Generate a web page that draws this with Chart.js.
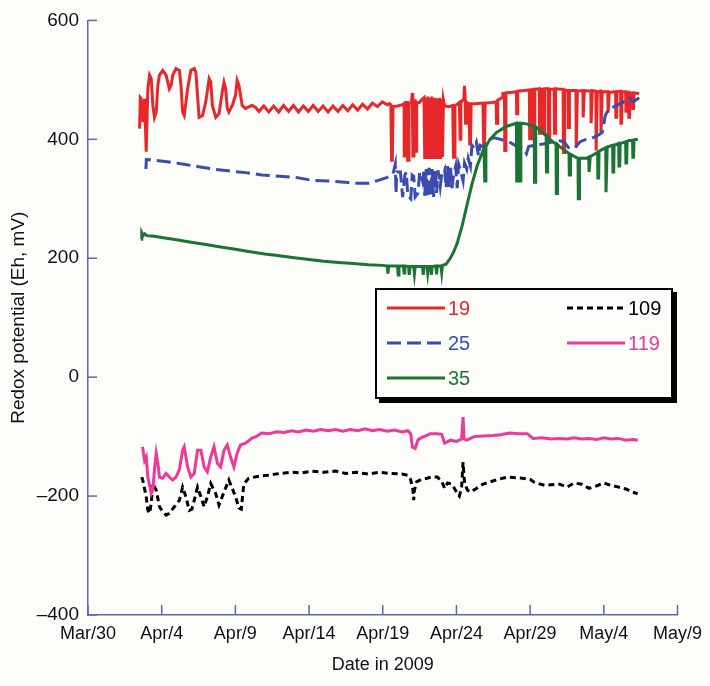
<!DOCTYPE html>
<html><head><meta charset="utf-8">
<script src="https://cdn.jsdelivr.net/npm/chart.js@4"></script>
<style>
html,body{margin:0;padding:0;background:#fdfdf9;}
#wrap{position:relative;width:710px;height:686px;}
#legend{position:absolute;left:375px;top:288px;width:294px;height:107px;border:2px solid #000;box-shadow:4px 4px 0 #000;background:#fdfdf9;font-family:"Liberation Sans",Arial,sans-serif;font-size:20px;}
.item{position:absolute;display:flex;align-items:center;height:24px;}
.item svg{display:block;margin-right:3px;}
</style></head>
<body>
<div id="wrap"><canvas id="c" width="710" height="686"></canvas><div id="legend"></div></div>
<script>
// ---- data (x = days since Mar 30, 2009) ----
const tickLabels = ['Mar/30','Apr/4','Apr/9','Apr/14','Apr/19','Apr/24','Apr/29','May/4','May/9'];
const seriesNames = ['19','25','35','109','119'];

const s19Day = [3.5,3.55,3.61,3.73,3.84,3.95,4.06,4.18,4.29,4.40,4.51,4.63,4.74,4.85,5.07,5.30,5.52,5.64,5.75,5.97,6.20,6.31,6.42,6.53,6.76,6.98,7.21,7.32,7.43,7.54,7.77,7.99,8.22,8.33,8.44,8.67,8.89,9.11,9.23,9.34,9.45,9.56,9.79,10.01,10.12,10.24,10.46,10.69,11.13,11.36,
11.60,11.93,12.27,12.60,12.94,13.27,13.61,13.94,14.28,14.61,14.95,15.28,15.62,15.95,16.29,16.62,16.96,17.29,17.63,17.96,18.30,18.63,18.97,19.30,19.64,19.97,20.31,
20.45,20.55,20.6,20.65,20.7,21.0,21.3,21.45,21.46,21.52,21.55,21.68,21.69,21.75,21.78,21.95,22.0,22.04,22.05,22.1,22.12,22.2,22.21,22.26,22.3,22.5,22.62,
22.8,22.85,22.92,22.98,23.05,23.12,23.18,23.25,23.32,23.38,23.45,23.52,23.58,23.65,23.72,23.78,23.85,23.92,23.98,24.05,24.12,24.2,
24.5,24.75,24.8,24.85,24.9,25.1,25.2,25.25,25.3,25.5,25.55,25.6,25.62,25.67,25.7,25.85,25.9,25.95,26.0,26.3,
26.8,26.85,26.9,26.95,27.4,27.7,27.72,27.77,27.8,28.1,28.15,28.26,28.28,28.33,28.36,28.8,29.07,29.09,29.14,29.16,29.6,29.95,29.97,30.02,30.05,30.22,30.24,30.29,30.32,30.62,30.64,30.69,30.72,30.89,30.91,30.96,30.99,31.23,31.25,31.3,31.33,31.63,31.65,31.7,31.73,32.1,32.24,32.26,32.31,32.34,32.57,32.59,32.64,32.67,33.11,33.13,33.18,33.21,33.58,33.6,33.65,33.68,34.12,34.14,34.19,34.22,34.46,34.48,34.53,34.56,34.79,34.81,34.86,34.89,35.27,35.29,35.34,35.37,35.8,35.82,35.87,35.9,36.14,36.16,36.21,36.24,36.48,36.5,36.55,36.58,36.68,36.7,36.75,36.78,36.95,36.97,37.02,37.05,37.4];
const s19Val = [418,470,468,429,468,379,485,508,502,457,437,446,491,508,516,508,485,491,508,519,516,491,446,440,485,516,519,513,474,437,440,463,502,496,457,437,443,480,496,485,452,446,457,474,499,491,457,452,457,454,
447,456,446,456,446,457,447,457,446,456,447,457,447,456,446,456,447,457,448,458,449,459,451,461,455,463,458,
460,458,365,365,455,456,458,460,372,372,462,462,365,365,460,462,478,470,372,372,465,465,380,380,462,462,466,
470,367,470,367,472,367,470,367,472,367,470,367,470,367,468,367,470,367,468,370,466,456,
455,457,370,370,456,460,462,400,462,468,490,466,427,427,462,460,392,392,460,460,
461,387,387,461,462,463,427,427,466,470,477,477,381,381,478,479,480,443,443,481,482,483,401,401,483,484,401,401,484,485,410,410,484,484,410,410,485,485,401,401,484,484,410,410,485,484,484,378,378,483,482,420,420,482,482,386,386,481,482,437,437,482,481,427,427,482,481,381,381,480,481,410,410,480,480,445,445,479,480,437,437,480,481,427,427,480,480,447,447,479,479,437,437,478,478,452,452,478,477];

const s25Day = [3.93,3.96,4.5,5.5,6.5,7.5,8.5,9.5,10.7,11.8,13,14.1,15.2,16.3,17.4,18.1,19.0,19.7,20.3,20.7,
20.85,20.9,20.95,21.2,21.35,21.5,21.6,21.7,21.9,22.0,22.1,22.2,22.4,22.5,22.55,22.7,22.8,22.85,22.95,23.05,23.15,23.25,23.35,23.45,23.55,23.65,23.75,23.9,24.0,24.2,24.3,24.4,24.5,24.6,24.7,24.8,24.95,25.05,25.15,25.3,25.45,25.55,25.7,25.8,25.95,26.05,26.2,26.35,
26.5,26.6,26.87,27.2,27.5,28.0,28.3,28.7,29.1,29.5,29.75,29.9,30.3,30.9,31.4,31.9,32.3,32.6,33.0,33.4,33.8,34.2,34.7,34.9,35.1,35.3,35.7,36.1,36.3,36.5,36.8,37.0,37.4];
const s25Val = [350,366,365,362,358,354,350,347,344,340,338,336,331,330,328,326,326,331,336,342,
358,309,345,345,303,340,345,305,300,340,338,303,310,345,345,330,350,305,350,303,352,305,350,303,350,310,348,320,340,350,318,355,320,352,318,340,355,318,358,345,330,360,350,368,355,390,385,395,
372,390,387,398,403,400,397,394,388,386,376,388,390,392,395,398,396,386,385,396,400,402,408,412,440,450,455,460,462,470,468,463,470];

const s35Day = [3.6,3.65,3.75,3.85,4.0,4.5,5,6,7,8,9,10,11,12,13,14,15,16,17,18,19,20,20.3,20.35,20.4,21.0,21.05,21.1,21.4,21.45,21.5,21.75,21.8,21.85,22.1,22.15,22.2,22.7,22.75,22.8,23.0,23.05,23.1,23.25,23.3,23.35,23.6,23.65,23.7,23.95,24.0,24.05,24.3,24.58,24.8,25.05,25.39,25.72,26.06,26.4,26.87,26.92,26.97,27.0,27.27,27.74,28.42,29.07,29.09,29.14,29.17,29.27,29.29,29.34,29.37,29.76,30.28,30.3,30.35,30.38,30.44,30.91,31.09,31.11,31.16,31.19,31.31,31.76,31.78,31.83,31.86,31.99,32.64,32.66,32.71,32.74,33.25,33.27,33.32,33.35,33.8,33.98,34.0,34.05,34.08,34.58,34.6,34.65,34.68,35.13,35.15,35.2,35.23,35.35,35.6,35.62,35.67,35.7,36.01,36.03,36.08,36.11,36.48,36.5,36.55,36.58,36.7,36.95,36.97,37.02,37.05,37.31];
const s35Val = [232,243,238,241,238,237,235,231,227,223,219,215,211,207,204,201,198,195,193,191,189,188,187,174,187,187,172,187,187,175,187,186,172,186,186,174,186,186,172,186,186,175,186,186,172,186,187,173,187,187,176,188,190,200,210,225,255,290,325,355,385,330,330,388,400,412,422,427,330,330,427,427,330,330,427,426,422,328,328,421,420,410,405,345,345,404,400,392,309,309,391,388,376,340,340,375,368,300,300,368,368,370,345,345,371,378,335,335,380,386,311,311,387,388,390,345,345,390,393,355,355,393,396,360,360,396,398,398,370,370,399,400];

const s109Day = [3.65,3.73,3.95,4.06,4.18,4.29,4.40,4.63,4.85,5.07,5.3,5.52,5.86,6.20,6.42,6.64,6.87,7.05,7.21,7.43,7.66,7.88,8.10,8.33,8.67,8.89,9.23,9.56,10.01,10.24,10.4,10.57,10.9,11.5,12.2,13,13.8,14.5,15.2,16,16.8,17.5,18.2,19,19.8,20.5,21.3,21.7,21.89,22.05,22.1,22.15,22.3,22.6,23.0,23.3,23.7,24.0,24.2,24.4,24.7,25.05,25.2,25.35,25.45,25.55,25.75,25.95,26.3,26.8,27.3,27.8,28.5,29.5,30.0,30.3,31.0,32.0,32.5,33.0,33.5,34.0,34.5,35.0,35.5,36.0,36.5,36.9,37.3];
const s109Val = [-168,-175,-201,-224,-229,-212,-179,-190,-218,-226,-232,-229,-218,-207,-185,-201,-224,-222,-207,-185,-201,-218,-201,-179,-196,-215,-193,-173,-201,-220,-222,-180,-170,-167,-165,-162,-160,-161,-158,-160,-158,-162,-160,-163,-160,-162,-163,-165,-172,-190,-207,-190,-176,-172,-170,-168,-168,-175,-187,-178,-180,-195,-200,-185,-143,-178,-190,-193,-188,-180,-176,-172,-168,-170,-172,-177,-182,-180,-185,-178,-180,-187,-183,-178,-182,-185,-188,-193,-196];

const s119Day = [3.7,3.73,3.84,3.95,4.06,4.18,4.29,4.40,4.51,4.63,4.74,4.85,5.07,5.30,5.52,5.75,5.97,6.20,6.42,6.53,6.76,6.98,7.21,7.43,7.66,7.88,8.10,8.33,8.55,8.78,9.0,9.23,9.45,9.67,9.9,10.12,10.35,10.7,11.1,11.4,11.8,12.3,12.8,13.3,13.8,14.3,14.8,15.3,15.8,16.3,16.8,17.3,17.8,18.3,18.8,19.3,19.8,20.3,20.8,21.3,21.7,21.89,22.02,22.2,22.4,22.7,23.0,23.2,23.7,24.0,24.2,24.6,25.0,25.35,25.45,25.52,25.7,26.2,26.8,27.5,28.0,28.6,29.2,29.8,30.2,30.8,31.4,32.0,32.5,33.0,33.5,34.0,34.5,35.0,35.5,36.0,36.5,37.0,37.3];
const s119Val = [-117,-117,-140,-134,-168,-182,-196,-190,-156,-128,-145,-168,-170,-162,-168,-173,-168,-156,-123,-117,-151,-168,-162,-123,-123,-151,-159,-134,-117,-145,-151,-123,-114,-134,-151,-128,-114,-111,-103,-100,-94,-95,-92,-93,-90,-92,-89,-91,-88,-90,-88,-91,-88,-90,-87,-90,-88,-91,-89,-92,-90,-95,-118,-120,-105,-101,-98,-95,-95,-96,-111,-106,-108,-104,-67,-104,-106,-100,-99,-98,-97,-94,-95,-95,-103,-102,-104,-103,-104,-102,-104,-103,-105,-102,-104,-103,-106,-105,-106];

// ---- styling ----
const AXIS = '#5f64b8';
const FONT = '"Liberation Sans", Arial, sans-serif';
const colors = ['#e8272b','#3a4cb0','#1b7436','#000000','#ec3a9a'];
const dashes = [[],[14,6],[],[6,4],[]];
const days = [s19Day,s25Day,s35Day,s109Day,s119Day];
const vals = [s19Val,s25Val,s35Val,s109Val,s119Val];
const orders = [5,4,3,2,1];

const datasets = seriesNames.map((n,i)=>({
  label: n,
  data: days[i].map((d,k)=>({x:d, y:vals[i][k]})),
  borderColor: colors[i],
  borderWidth: 3,
  borderDash: dashes[i],
  pointRadius: 0,
  tension: 0,
  fill: false,
  order: orders[i]
}));

const inwardTicks = {
  id: 'inwardTicks',
  afterDraw(chart){
    const {ctx, chartArea:a, scales:{x,y}} = chart;
    ctx.save(); ctx.strokeStyle = AXIS; ctx.lineWidth = 1.5;
    x.ticks.forEach(t=>{const px=x.getPixelForValue(t.value); ctx.beginPath(); ctx.moveTo(px,a.bottom); ctx.lineTo(px,a.bottom-10); ctx.stroke();});
    y.ticks.forEach(t=>{const py=y.getPixelForValue(t.value); ctx.beginPath(); ctx.moveTo(a.left,py); ctx.lineTo(a.left+9,py); ctx.stroke();});
    ctx.restore();
  }
};

new Chart(document.getElementById('c'), {
  type: 'line',
  data: { datasets },
  options: {
    responsive: false,
    animation: false,
    layout: { padding: { top: 20, right: 28, left: 0, bottom: 0 } },
    plugins: { legend: { display: false }, tooltip: { enabled: false } },
    scales: {
      x: {
        type: 'linear', min: 0, max: 40,
        afterFit(s){ s.height = 71; },
        grid: { drawOnChartArea: false, drawTicks: false },
        border: { color: AXIS, width: 1.5 },
        ticks: { stepSize: 5, padding: 8, color: '#111', font: { family: FONT, size: 18 },
                 maxRotation: 0, autoSkip: false,
                 callback: v => tickLabels[Math.round(v/5)] },
        title: { display: true, text: 'Date in 2009', color: '#111', font: { family: FONT, size: 18 }, padding: { top: 0, bottom: 10 } }
      },
      y: {
        min: -400, max: 600,
        afterFit(s){ s.width = 88; },
        grid: { drawOnChartArea: false, drawTicks: false },
        border: { color: AXIS, width: 1.5 },
        ticks: { stepSize: 200, padding: 9, color: '#111', font: { family: FONT, size: 19 },
                 callback: v => v < 0 ? '\u2013' + Math.abs(v) : String(v) },
        title: { display: true, text: 'Redox potential (Eh, mV)', color: '#111', font: { family: FONT, size: 19 }, padding: { top: 7, bottom: 0 } }
      }
    }
  },
  plugins: [inwardTicks]
});

// ---- legend (HTML, built from the datasets) ----
const legendPos = [[10,6],[10,41],[10,76],[190,6],[190,41]];
const leg = document.getElementById('legend');
datasets.forEach((ds,i)=>{
  const it = document.createElement('div');
  it.className = 'item';
  it.style.left = legendPos[i][0] + 'px';
  it.style.top = legendPos[i][1] + 'px';
  const da = ds.borderDash.length ? ds.borderDash.join(',') : 'none';
  it.innerHTML = '<svg width="58" height="6"><line x1="0" y1="3" x2="58" y2="3" stroke="'+ds.borderColor+'" stroke-width="3" stroke-dasharray="'+da+'"/></svg>' +
                 '<span style="color:'+ds.borderColor+'">'+ds.label+'</span>';
  leg.appendChild(it);
});
</script>
</body></html>
